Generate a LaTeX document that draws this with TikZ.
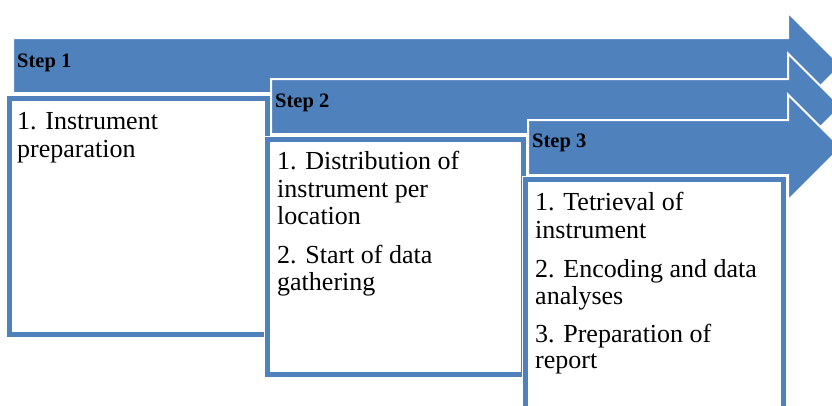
\documentclass[tikz,border=0pt]{standalone}
\usepackage{fontspec}
\setmainfont{Liberation Serif}
\definecolor{accent}{HTML}{4F81BD}
\tikzset{
  arrowshape/.style={fill=accent, draw=white, line width=2pt, line join=miter},
  boxhalo/.style={draw=white, line width=7pt},
  boxshape/.style={draw=accent, line width=5pt, fill=white},
  steplabel/.style={anchor=base west, inner sep=0pt, font=\fontsize{20.5}{24}\selectfont\bfseries},
  bodytext/.style={anchor=base west, inner sep=0pt, font=\fontsize{26}{28}\selectfont},
}
\newcommand\mysteparrow[2]{%
  \path[arrowshape] (#1,{#2-27.5}) -- (788,{#2-27.5}) -- (788,{#2-53}) -- (841,#2)
    -- (788,{#2+53}) -- (788,{#2+27.5}) -- (#1,{#2+27.5}) -- cycle;}
\begin{document}
\begin{tikzpicture}[x=1pt,y=-1pt]
\useasboundingbox (0,0) rectangle (832,405);
\clip (0,0) rectangle (832,405);
% step 1
\mysteparrow{13}{65.5}
\draw[boxhalo] (9.5,98.5) rectangle (267.5,334);
\draw[boxshape] (9.5,98.5) rectangle (267.5,334);
\node[steplabel] (s1) at (17,67) {Step 1};
\node[bodytext] (a1) at (17,129) {1. Instrument};
\node[bodytext] (a2) at (17,157) {preparation};
% step 2
\mysteparrow{271}{106.5}
\draw[boxhalo] (267.5,139) rectangle (523.5,374.5);
\draw[boxshape] (267.5,139) rectangle (523.5,374.5);
\node[steplabel] (s2) at (275,107) {Step 2};
\node[bodytext] (b1) at (277,169) {1. Distribution of};
\node[bodytext] (b2) at (277,197) {instrument per};
\node[bodytext] (b3) at (277,224) {location};
\node[bodytext] (b4) at (277,263) {2. Start of data};
\node[bodytext] (b5) at (277,290) {gathering};
% step 3
\mysteparrow{528}{147.5}
\draw[boxhalo] (525.5,179) rectangle (783,420);
\draw[boxshape] (525.5,179) rectangle (783,420);
\node[steplabel] (s3) at (532,147) {Step 3};
\node[bodytext] (c1) at (535,210) {1. Tetrieval of};
\node[bodytext] (c2) at (535,238) {instrument};
\node[bodytext] (c3) at (535,277) {2. Encoding and data};
\node[bodytext] (c4) at (535,304) {analyses};
\node[bodytext] (c5) at (535,342) {3. Preparation of};
\node[bodytext] (c6) at (535,368) {report};
\end{tikzpicture}
\end{document}
